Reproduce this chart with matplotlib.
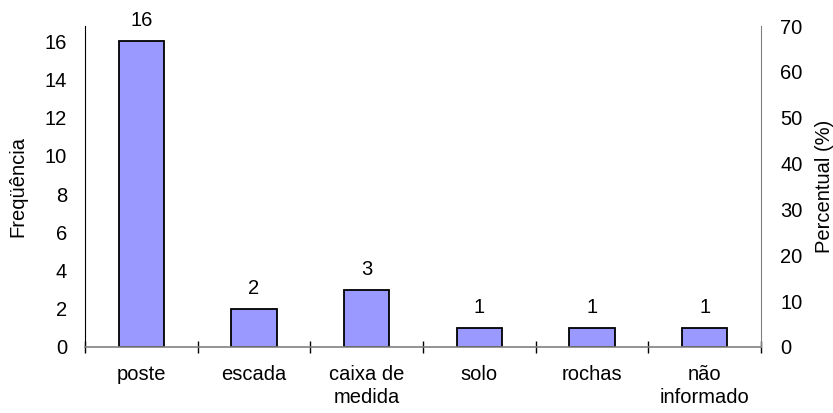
import numpy as np
import matplotlib.pyplot as plt
from matplotlib.ticker import FixedLocator

plt.rcParams['font.family'] = ['Liberation Sans', 'DejaVu Sans']

# Data
categories = ["poste", "escada", "caixa de\nmedida", "solo", "rochas", "não\ninformado"]
counts = np.array([16, 2, 3, 1, 1, 1])
total = counts.sum()

BAR_COLOR = "#9999FF"
AXIS_GRAY = "#808080"
FS = 14.5

fig = plt.figure(figsize=(8.33, 4.13), dpi=100)
ax = fig.add_axes([0.102, 0.160, 0.9136 - 0.102, 0.937 - 0.160])

x = np.arange(len(categories))
bars = ax.bar(x, counts, width=0.4, color=BAR_COLOR, edgecolor="black", linewidth=1.3)
for xi, c in zip(x, counts):
    ax.annotate(str(c), (xi, c), xytext=(0, 8), textcoords="offset points",
                ha="center", va="bottom", fontsize=FS)

ax.set_xlim(-0.5, len(categories) - 0.5)
ax.set_ylim(0, total * 0.70)
ax.set_yticks(np.arange(0, 17, 2))
ax.set_xticks(x)
ax.set_xticklabels(categories, fontsize=FS, linespacing=1.3)
ax.xaxis.set_minor_locator(FixedLocator(np.arange(-0.5, len(categories), 1.0)))
ax.tick_params(axis="x", which="major", length=0, pad=13)
ax.tick_params(axis="x", which="minor", length=9, direction="inout", width=1, color="black")
ax.tick_params(axis="y", length=0, pad=13, labelsize=FS)
ax.set_ylabel("Freqüência", fontsize=FS, labelpad=12)

ax.spines["top"].set_visible(False)
ax.spines["right"].set_visible(False)
ax.spines["left"].set_color("black")
ax.spines["bottom"].set_color(AXIS_GRAY)
ax.spines["bottom"].set_linewidth(1.2)

# Percent axis on the right
ax2 = ax.twinx()
ax2.set_ylim(0, 70)
ax2.set_yticks(np.arange(0, 71, 10))
ax2.tick_params(axis="y", length=0, pad=14, labelsize=FS)
ax2.set_ylabel("Percentual (%)", fontsize=FS, labelpad=9)
ax2.spines["top"].set_visible(False)
ax2.spines["left"].set_visible(False)
ax2.spines["bottom"].set_visible(False)
ax2.spines["right"].set_color(AXIS_GRAY)

fig.savefig("out.png", dpi=100)
